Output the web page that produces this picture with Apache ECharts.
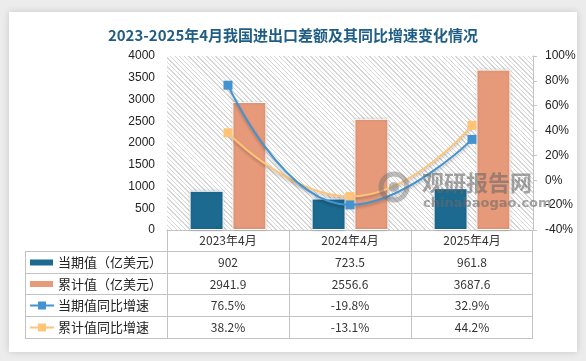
<!DOCTYPE html>
<html><head><meta charset="utf-8">
<script src="https://cdn.jsdelivr.net/npm/echarts@6/dist/echarts.min.js"></script>
<style>
html,body{margin:0;padding:0;background:#ececec;}
#wrap{position:relative;width:586px;height:361px;background:#ececec;overflow:hidden}
#card{position:absolute;left:9px;top:12px;width:568px;height:340px;background:#fff;box-shadow:0 0 7px rgba(0,0,0,0.16);}
#hatch{position:absolute;left:167px;top:56px;width:366px;height:174px;
  background:repeating-linear-gradient(45deg,#d6d6d6 0px,#d6d6d6 1px,#ffffff 1px,#ffffff 3.2px);}
#main{position:absolute;left:0;top:0;width:586px;height:361px;}
</style></head><body>
<div id="wrap"><div id="card"></div><div id="hatch"></div><div id="main"></div></div>
<script>
const categories = ['2023年4月', '2024年4月', '2025年4月'];
const currentValue = [902, 723.5, 961.8];
const cumulativeValue = [2941.9, 2556.6, 3687.6];
const currentYoY = [76.5, -19.8, 32.9];
const cumulativeYoY = [38.2, -13.1, 44.2];
const seriesNames = ['当期值（亿美元）', '累计值（亿美元）', '当期值同比增速', '累计值同比增速'];
const titleText = '2023-2025年4月我国进出口差额及其同比增速变化情况';

const colors = ['#1c6a8f', '#e69a79', '#4393d0', '#ffc478'];
const FONT = '"Noto Sans CJK SC", "Liberation Sans", sans-serif';

// layout
const L = 167, R = 533, T = 56, B = 230;
const tableLeft = 25;
const rowLines = [251, 273, 294, 316, 338];
const colW = (R - L) / categories.length;

const el = [];
const lineColor = '#c3c3c3';
function hl(y, x1, x2) { el.push({type: 'line', silent: true, shape: {x1: x1, y1: y + 0.5, x2: x2, y2: y + 0.5}, style: {stroke: lineColor, lineWidth: 1}}); }
function vl(x, y1, y2) { el.push({type: 'line', silent: true, shape: {x1: x + 0.5, y1: y1, x2: x + 0.5, y2: y2}, style: {stroke: lineColor, lineWidth: 1}}); }
function txt(s, x, y, opt) {
  opt = opt || {};
  el.push({type: 'text', silent: true, z: 10, style: Object.assign({
    text: s, x: x, y: y, font: (opt.size || 12) + 'px ' + FONT, fill: opt.fill || '#333',
    textAlign: opt.align || 'center', align: opt.align || 'center',
    textVerticalAlign: 'middle', verticalAlign: 'middle'
  }, opt.extra || {})});
}
rowLines.forEach(y => hl(y, tableLeft, R));
vl(tableLeft, rowLines[0], rowLines[4] + 1);
for (let i = 0; i <= categories.length; i++) vl(Math.round(L + i * colW) - (i === categories.length ? 1 : 0), B, rowLines[4] + 1);

const rows = [
  currentValue.map(v => String(v)),
  cumulativeValue.map(v => String(v)),
  currentYoY.map(v => v.toFixed(1) + '%'),
  cumulativeYoY.map(v => v.toFixed(1) + '%')
];
rows.forEach((r, ri) => {
  const cy = (rowLines[ri] + rowLines[ri + 1]) / 2 + 0.5;
  r.forEach((s, ci) => txt(s, L + colW * (ci + 0.5), cy));
  if (ri < 2) {
    el.push({type: 'rect', silent: true, shape: {x: 30, y: cy - 3, width: 23, height: 6}, style: {fill: colors[ri]}});
  } else {
    el.push({type: 'line', silent: true, shape: {x1: 30, y1: cy, x2: 54, y2: cy}, style: {stroke: colors[ri], lineWidth: 2}});
    el.push({type: 'rect', silent: true, shape: {x: 38, y: cy - 4, width: 8, height: 8}, style: {fill: colors[ri]}});
  }
  txt(seriesNames[ri], 58, cy, {align: 'left', size: 13, fill: '#222'});
});

// watermark
el.push({type: 'circle', silent: true, z: 20, shape: {cx: 394, cy: 187, r: 13}, style: {fill: 'none', stroke: 'rgba(110,110,110,0.45)', lineWidth: 5}});
el.push({type: 'circle', silent: true, z: 20, shape: {cx: 394, cy: 187, r: 5}, style: {fill: 'rgba(110,110,110,0.45)'}});
txt('观研报告网', 422, 183, {align: 'left', extra: {font: 'bold 22px ' + FONT, fill: 'rgba(105,105,105,0.6)'}});
txt('chinabaogao.com', 423, 204, {align: 'left', extra: {font: 'bold 13px "DejaVu Sans", sans-serif', fill: 'rgba(105,105,105,0.6)'}});

const chart = echarts.init(document.getElementById('main'), null, {renderer: 'canvas'});
chart.setOption({
  animation: false,
  backgroundColor: 'transparent',
  title: {
    text: titleText, left: 'center', top: 23,
    textStyle: {fontFamily: FONT, fontSize: 15, fontWeight: 'bold', color: '#1f5d85'}
  },
  grid: {
    left: L, right: 586 - R, top: T, bottom: 361 - B
  },
  xAxis: {
    type: 'category', data: categories,
    axisLine: {show: true, lineStyle: {color: lineColor}},
    axisTick: {show: false},
    axisLabel: {fontFamily: FONT, fontSize: 12, color: '#333', margin: 4}
  },
  yAxis: [{
    type: 'value', min: 0, max: 4000, interval: 500,
    axisLine: {show: false}, axisTick: {show: false}, splitLine: {show: false},
    axisLabel: {fontFamily: '"Liberation Sans", sans-serif', fontSize: 12, color: '#222', margin: 12,
      formatter: v => String(v)}
  }, {
    type: 'value', min: -40, max: 100, interval: 20, position: 'right',
    axisLine: {show: true, lineStyle: {color: lineColor}},
    axisTick: {show: true, length: 4, lineStyle: {color: lineColor}},
    splitLine: {show: false},
    axisLabel: {fontFamily: '"Liberation Sans", sans-serif', fontSize: 12, color: '#222', margin: 12, formatter: '{value}%'}
  }],
  series: [{
    name: seriesNames[0], type: 'bar', data: currentValue, barWidth: 34, barGap: '26%',
    itemStyle: {color: colors[0], borderColor: '#fff', borderWidth: 1, shadowBlur: 3, shadowColor: 'rgba(0,0,0,0.2)'}
  }, {
    name: seriesNames[1], type: 'bar', data: cumulativeValue, barWidth: 34,
    itemStyle: {color: colors[1], borderColor: '#fff', borderWidth: 1, shadowBlur: 3, shadowColor: 'rgba(0,0,0,0.2)'}
  }, {
    name: seriesNames[2], type: 'line', yAxisIndex: 1, data: currentYoY, smooth: 0.5,
    symbol: 'rect', symbolSize: 9, z: 5,
    lineStyle: {color: colors[2], width: 2, shadowBlur: 3, shadowColor: 'rgba(0,0,0,0.25)', shadowOffsetY: 2},
    itemStyle: {color: colors[2]}
  }, {
    name: seriesNames[3], type: 'line', yAxisIndex: 1, data: cumulativeYoY, smooth: 0.5,
    symbol: 'rect', symbolSize: 9, z: 4,
    lineStyle: {color: colors[3], width: 2, shadowBlur: 3, shadowColor: 'rgba(0,0,0,0.25)', shadowOffsetY: 2},
    itemStyle: {color: colors[3]}
  }],
  graphic: {elements: el}
});
</script>
</body></html>
